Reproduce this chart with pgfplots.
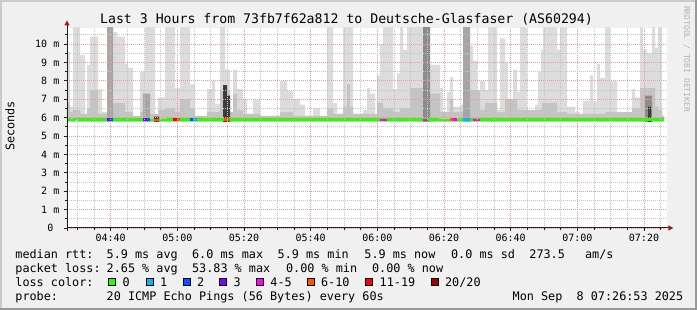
\documentclass[border=0pt]{standalone}
\usepackage{fontspec}
\setmainfont{DejaVu Sans Mono}
\newfontfamily\mono{DejaVu Sans Mono}
\usepackage{pgfplots}
\pgfplotsset{compat=1.18}
\usepackage{pgfplotstable}
\usetikzlibrary{arrows.meta}

\definecolor{bgc}{HTML}{F0F0F0}
\definecolor{shadea}{HTML}{CBCBCB}
\definecolor{shadeb}{HTML}{999999}
\definecolor{mgrid}{HTML}{F09A9A}
\definecolor{mngrid}{HTML}{C4C4C4}
\definecolor{arrowc}{HTML}{9A1C1C}
\definecolor{axisc}{HTML}{202020}
\definecolor{sA}{HTML}{DCDCDC}
\definecolor{sB}{HTML}{C4C4C4}
\definecolor{sC}{HTML}{A6A6A6}
\definecolor{sD}{HTML}{8C8C8C}
\definecolor{sE}{HTML}{3C3C3C}
\definecolor{c0}{HTML}{26FF00}
\definecolor{c1}{HTML}{00B8FF}
\definecolor{c2}{HTML}{0059FF}
\definecolor{c3}{HTML}{7E00FF}
\definecolor{c4}{HTML}{FF00FF}
\definecolor{c6}{HTML}{FF5500}
\definecolor{c11}{HTML}{FF0000}
\definecolor{c20}{HTML}{A10000}

\newcommand\lf{\mono\fontsize{11.8}{14}\selectfont}

% smoke layers: time (minutes since midnight), top of band (ms)
\pgfplotstableread{
t v
266.9 9.57
267.8 6.6
268.7 11
270.8 9.4
272.3 6.2
272.9 8.86
273.8 10.4
276.2 7.55
277.4 6.3
278.9 11
280.7 10.65
281.9 10.4
284.3 8.9
285.2 8.7
286.7 6.0
288.8 8.5
290.3 11
293.3 6.1
294.2 7.1
296.3 11
299.3 7.6
300.8 11
303.8 7.8
305.3 6.1
308.9 7.55
310.4 8.0
311.3 6.74
312.8 11
314.3 8.6
315.8 6.3
316.7 8.6
317.9 7.55
319.7 7.0
320.9 6.2
322.7 6.95
324.8 6.1
330.8 8.0
332.9 7.45
334.7 7.0
336.8 6.7
338.3 6.1
340.7 6.5
342.8 6.1
344.9 11
346.7 6.8
347.9 6.2
349.7 11
352.7 6.2
355.7 6.4
356.9 7.6
357.8 7.3
359.3 6.1
359.9 8.3
360.8 10.0
361.7 11
364.7 7.55
365.9 8.4
366.8 11
367.7 9.7
368.9 11
375.8 8.86
378.8 7.6
379.7 6.2
380.9 7.4
381.8 8.2
382.7 6.6
384.8 6.7
385.7 11
387.8 9.9
388.7 9.1
389.9 6.7
390.8 8.0
392.3 7.5
393.2 11
395.9 6.4
396.8 10.3
398.3 9.0
399.2 6.5
400.7 8.6
401.9 7.4
402.8 11
404.9 6.3
407.3 6.7
408.2 8.5
409.1 9.7
409.7 11
413.9 9.7
414.8 11
416.9 6.6
419.3 6.3
420.8 6.0
421.7 6.9
423.8 8.3
424.7 6.9
425.9 8.9
426.8 8.15
428.3 11
429.8 8.0
431.9 6.3
432.8 6.2
436.4 7.55
437.3 7.1
438.8 11
439.7 9.7
440.9 9.5
442.4 11
443.3 9.8
444.2 11
445.4 6.1
446.0 6.1
}\lightS

\pgfplotstableread{
t v
266.9 6.8
267.8 6.3
268.7 6.4
270.8 6.2
272.9 6.5
273.8 7.5
276.2 6.2
280.7 6.8
284.3 6.3
286.7 6.1
288.8 6.3
291.8 6.2
294.2 6.4
296.3 6.5
299.3 6.3
300.8 7.0
303.8 6.5
305.3 6.1
308.9 6.3
312.8 7.5
315.8 6.3
316.7 7.3
317.9 6.4
319.7 6.2
324.8 6.1
330.8 6.3
334.7 6.1
344.9 6.5
346.7 6.2
349.7 6.6
350.9 7.8
351.8 6.6
352.7 6.2
359.9 6.8
361.7 6.5
364.7 6.3
366.8 6.5
369.8 7.6
373.7 6.5
375.8 7.3
378.8 6.3
381.8 7.0
382.7 6.3
387.8 7.5
390.8 6.4
392.3 6.8
395.9 6.3
398.3 7.0
401.9 6.4
409.4 6.8
413.9 6.3
416.9 6.2
428.3 6.3
436.4 6.5
438.8 7.6
443.3 6.6
444.2 6.4
445.4 6.1
446.0 6.1
}\midS

\pgfplotstableread{
t v
266.9 0
278.9 11
280.7 0
289.7 7.3
291.8 0
385.7 11
387.8 0
446.0 0
}\darkC

\pgfplotstableread{
t v
266.9 0
373.7 11
375.8 0
440.3 7.2
442.4 0
446.0 0
}\darkD

\pgfplotstableread{
t v
266.9 0
293.0 6.05
294.5 0
313.7 7.77
314.9 7.2
315.8 0
441.2 6.6
442.1 0
446.0 0
}\darkE

\pgfplotstableread{
t v
266.9 5.9
267.8 5.86
269.0 5.92
270.5 5.9
290.0 5.88
297.0 5.9
378.0 5.88
385.0 5.9
420.0 5.87
421.0 5.9
446.0 5.9
}\median

\begin{document}
\begin{tikzpicture}
\fill[bgc] (0pt,0pt) rectangle (697pt,310pt);
\fill[shadea] (0pt,308pt) rectangle (697pt,310pt);
\fill[shadea] (0pt,0pt) rectangle (2pt,310pt);
\fill[shadeb] (0pt,0pt) rectangle (697pt,2pt);
\fill[shadeb] (695pt,0pt) rectangle (697pt,310pt);

\begin{axis}[
  at={(67pt,82pt)}, anchor=south west, scale only axis,
  width=600pt, height=200pt,
  xmin=266.9, xmax=446.9, ymin=0, ymax=10.87,
  axis on top, axis line style={draw=none},
  axis background/.style={fill=white},
  xtick={280,300,...,440},
  xticklabels={04:40,05:00,05:20,05:40,06:00,06:20,06:40,07:00,07:20},
  minor xtick={270,275,285,290,295,305,310,315,325,330,335,345,350,355,365,370,375,385,390,395,405,410,415,425,430,435,445},
  ytick={0,1,...,10},
  yticklabels={0~~,1 m,2 m,3 m,4 m,5 m,6 m,7 m,8 m,9 m,10 m},
  minor ytick={0.5,1.5,...,10.5},
  grid=both,
  major grid style={mgrid, line width=0.8pt, dash pattern=on 1pt off 1pt},
  minor grid style={mngrid, line width=0.8pt, dash pattern=on 1pt off 1pt},
  tick align=outside, tick pos=left,
  major tick length=3pt, minor tick length=2pt,
  tick style={axisc, line width=0.8pt},
  every tick label/.append style={font=\mono\fontsize{10}{12}\selectfont},
  xticklabel style={inner sep=0pt, anchor=north, yshift=-3pt},
  yticklabel style={inner sep=0pt, anchor=east, xshift=-4.5pt},
  /pgf/number format/assume math mode=true,
]
\addplot[const plot, fill=sA, draw=none] table[x=t,y=v] {\lightS} \closedcycle;
\addplot[const plot, fill=sB, draw=none] table[x=t,y=v] {\midS} \closedcycle;
\addplot[const plot, fill=sC, draw=none] table[x=t,y=v] {\darkC} \closedcycle;
\addplot[const plot, fill=sD, draw=none] table[x=t,y=v] {\darkD} \closedcycle;
\addplot[const plot, fill=sE, draw=none] table[x=t,y=v] {\darkE} \closedcycle;
\addplot[fill=white, draw=none] coordinates {(266.9,5.78) (446.9,5.78)} \closedcycle;
\addplot[const plot, c0, line width=2.6pt] table[x=t,y=v] {\median};
\addplot[c3, line width=2.6pt, unbounded coords=jump] coordinates {(278.9,5.9) (279.8,5.9) (279.8,nan) (289.7,5.9) (290.9,5.9)};
\addplot[c2, line width=2.6pt, unbounded coords=jump] coordinates {(279.8,5.9) (280.7,5.9) (280.7,nan) (290.9,5.9) (291.8,5.9) (291.8,nan) (303.8,5.9) (304.7,5.9)};
\addplot[c1, line width=2.6pt, unbounded coords=jump] coordinates {(304.7,5.9) (305.9,5.9) (305.9,nan) (385.7,5.9) (387.8,5.9)};
\addplot[c6, line width=2.6pt, unbounded coords=jump] coordinates {(293.0,5.86) (294.5,5.86) (294.5,nan) (299.9,5.9) (300.8,5.9) (300.8,nan) (314.0,5.9) (315.8,5.88) (315.8,nan) (381.8,5.9) (382.7,5.9)};
\addplot[c11, line width=2.6pt] coordinates {(298.7,5.9) (299.9,5.9)};
\addplot[c4, line width=2.6pt, unbounded coords=jump] coordinates {(360.8,5.88) (362.9,5.88) (362.9,nan) (373.7,5.88) (375.2,5.88) (375.2,nan) (382.7,5.9) (383.9,5.9) (383.9,nan) (388.7,5.88) (390.8,5.88)};
\end{axis}

% axis lines and arrows
\draw[line width=1pt, axisc] (67pt,82pt) -- (669pt,82pt);
\fill[arrowc] (673.3pt,82pt) -- (668.3pt,84.7pt) -- (668.3pt,79.3pt) -- cycle;
\draw[line width=1pt, axisc] (67pt,79pt) -- (67pt,285pt);
\fill[arrowc] (67pt,289.5pt) -- (64.3pt,284.5pt) -- (69.7pt,284.5pt) -- cycle;

% title and labels
\node[anchor=base, inner sep=0pt, font=\mono\fontsize{13.2}{15}\selectfont] at (346.5pt,286pt) {Last 3 Hours from 73fb7f62a812 to Deutsche-Glasfaser (AS60294)};
\node[rotate=90, inner sep=0pt, font=\lf] at (10pt,184pt) {Seconds};
\node[rotate=-90, inner sep=0pt, font=\mono\fontsize{8}{10}\selectfont, text=gray!60] at (686.7pt,251pt) {RRDTOOL / TOBI OETIKER};

% legend lines
\begin{scope}[every node/.style={anchor=base west, inner sep=0pt, font=\lf}]
\node at (15.2pt,51.7pt) {median rtt:};
\node at (106.5pt,51.7pt) {5.9 ms avg};
\node at (191.9pt,51.7pt) {6.0 ms max};
\node at (277.5pt,51.7pt) {5.9 ms min};
\node at (364.2pt,51.7pt) {5.9 ms now};
\node at (450.9pt,51.7pt) {0.0 ms sd};
\node at (529.2pt,51.7pt) {273.5};
\node at (584.9pt,51.7pt) {am/s};
\node at (15.2pt,37.7pt) {packet loss:};
\node at (106.5pt,37.7pt) {2.65 \% avg};
\node at (191.9pt,37.7pt) {53.83 \% max};
\node at (285.9pt,37.7pt) {0.00 \% min};
\node at (371.9pt,37.7pt) {0.00 \% now};
\node at (15.2pt,23.4pt) {loss color:};
\node at (122.5pt,23.4pt) {0};
\node at (159.9pt,23.4pt) {1};
\node at (196.9pt,23.4pt) {2};
\node at (233.5pt,23.4pt) {3};
\node at (270.2pt,23.4pt) {4-5};
\node at (320.9pt,23.4pt) {6-10};
\node at (379.5pt,23.4pt) {11-19};
\node at (444.9pt,23.4pt) {20/20};
\node at (15.2pt,9.3pt) {probe:};
\node at (106.5pt,9.3pt) {20 ICMP Echo Pings (56 Bytes) every 60s};
\node at (512.5pt,9.3pt) {Mon Sep~~8 07:26:53 2025};
\end{scope}
\begin{scope}[line width=0.8pt]
\filldraw[fill=c0, draw=black] (108.7pt,24.3pt) rectangle (115.7pt,31.3pt);
\filldraw[fill=c1, draw=black] (146.1pt,24.3pt) rectangle (153.1pt,31.3pt);
\filldraw[fill=c2, draw=black] (183.1pt,24.3pt) rectangle (190.1pt,31.3pt);
\filldraw[fill=c3, draw=black] (219.7pt,24.3pt) rectangle (226.7pt,31.3pt);
\filldraw[fill=c4, draw=black] (256.4pt,24.3pt) rectangle (263.4pt,31.3pt);
\filldraw[fill=c6, draw=black] (307.1pt,24.3pt) rectangle (314.1pt,31.3pt);
\filldraw[fill=c11, draw=black] (365.7pt,24.3pt) rectangle (372.7pt,31.3pt);
\filldraw[fill=c20, draw=black] (431.1pt,24.3pt) rectangle (438.1pt,31.3pt);
\end{scope}
\end{tikzpicture}
\end{document}
